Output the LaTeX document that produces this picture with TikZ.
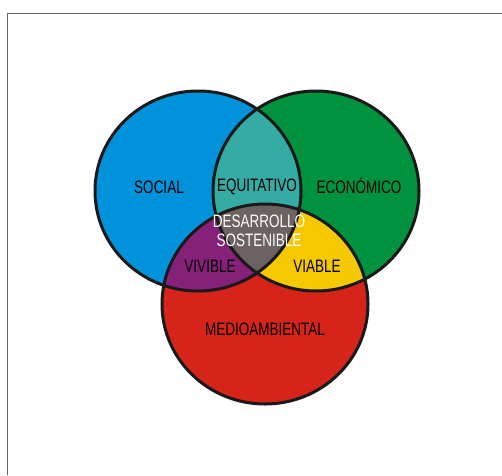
\documentclass[tikz,border=0pt]{standalone}
\usepackage{fontspec}
\setmainfont{Liberation Sans}[FakeStretch=0.75]
\usepackage{tikz}

\definecolor{socialblue}{RGB}{0,146,218}
\definecolor{ecogreen}{RGB}{0,146,62}
\definecolor{medred}{RGB}{214,36,27}
\definecolor{equiteal}{RGB}{52,172,164}
\definecolor{vivpurple}{RGB}{134,33,122}
\definecolor{viayellow}{RGB}{245,200,0}
\definecolor{desgray}{RGB}{108,98,98}

\def\cSocial{(198,191) ellipse [x radius=103, y radius=100]}
\def\cEcon{(316,191) ellipse [x radius=103, y radius=100]}
\def\cMedio{(265,304) ellipse [x radius=103, y radius=100]}

\begin{document}
\begin{tikzpicture}[x=1pt,y=-1pt,lbl/.style={font=\fontsize{18}{18}\selectfont,inner sep=0pt},ring/.style={draw=black!90,line width=3pt}]
\useasboundingbox (0,0) rectangle (502,475);
\draw[black!60,line width=1pt] (7.3,475) -- (7.3,13.3) -- (502,13.3);
% areas
\fill[socialblue] \cSocial;
\fill[ecogreen] \cEcon;
\fill[medred] \cMedio;
\begin{scope}\clip \cSocial; \fill[equiteal] \cEcon; \fill[vivpurple] \cMedio;\end{scope}
\begin{scope}\clip \cEcon; \fill[viayellow] \cMedio;\end{scope}
\begin{scope}\clip \cSocial; \clip \cEcon; \fill[desgray] \cMedio;\end{scope}
% outlines
\foreach \c in {\cSocial,\cEcon,\cMedio} {
   \draw[ring] \c;
}
% labels
\node[lbl] (social) at (159,187) {SOCIAL};
\node[lbl] (equitativo) at (257,187) {EQUITATIVO};
\node[lbl] (economico) at (359,186) {ECONÓMICO};
\node[lbl,white,align=center] (desarrollo) at (259,231) {DESARROLLO\\[1pt]SOSTENIBLE};
\node[lbl] (vivible) at (210,266) {VIVIBLE};
\node[lbl] (viable) at (317,266) {VIABLE};
\node[lbl] (medio) at (265,329) {MEDIOAMBIENTAL};
\end{tikzpicture}
\end{document}
